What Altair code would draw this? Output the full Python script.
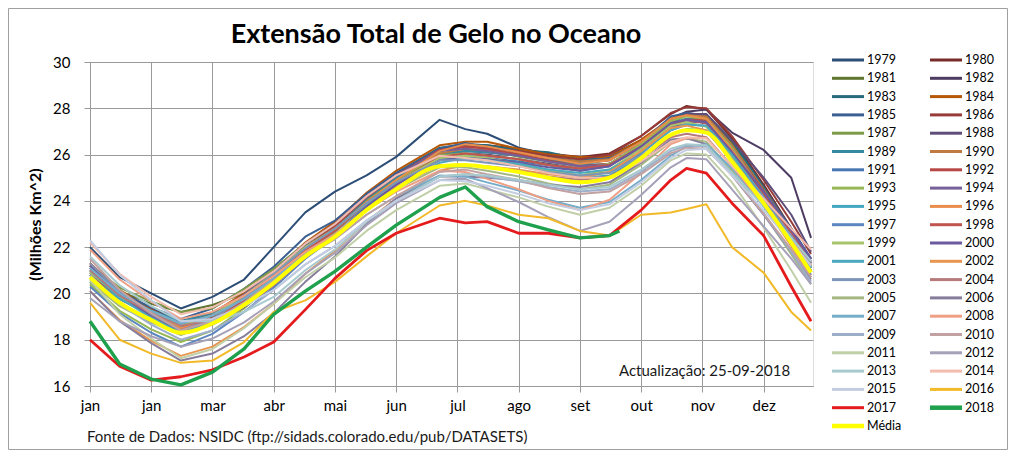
import json
import altair as alt
import pandas as pd

# ---- x positions (day of year) shared by the yearly series ----
DAYS = [0, 15, 31, 46, 62, 78, 93, 109, 124, 140, 155, 177, 190,
        201, 217, 232, 248, 263, 279, 294, 302, 312, 325, 341, 355, 365]
DAYS_2018 = [0, 15, 31, 46, 62, 78, 93, 109, 124, 140, 155, 177, 190,
             201, 217, 232, 248, 263, 268]

# ---- yearly extent values (million km^2) ----
Y1979 = [22.0, 20.7, 20.0, 19.35, 19.85, 20.6, 22.0, 23.5, 24.4, 25.1, 25.9, 27.5, 27.1, 26.9, 26.3, 26.0, 25.8, 26.0, 26.6, 27.5, 27.8, 27.7, 26.5, 24.5, 22.8, 21.5]
Y1980 = [21.2, 20.05, 19.2, 18.6, 18.95, 19.7, 20.65, 21.9, 22.85, 24.1, 25.1, 26.25, 26.45, 26.4, 26.25, 26.05, 25.9, 26.05, 26.8, 27.75, 28.1, 27.95, 26.7, 24.7, 22.8, 21.3]
Y1981 = [21.0, 20.1, 19.55, 19.2, 19.5, 20.0, 21.05, 22.15, 23.0, 24.1, 25.0, 26.15, 26.35, 26.3, 26.2, 25.9, 25.7, 25.8, 26.55, 27.45, 27.75, 27.7, 26.5, 24.5, 22.6, 21.1]
Y1982 = [21.2, 20.1, 19.35, 18.8, 19.15, 19.9, 20.85, 21.95, 22.8, 23.9, 24.8, 25.95, 26.15, 26.1, 25.95, 25.75, 25.6, 25.75, 26.55, 27.55, 27.85, 27.95, 26.95, 26.2, 25.0, 22.4]
Y1983 = [20.5, 19.55, 18.9, 18.5, 18.95, 19.8, 20.75, 22.0, 22.95, 24.05, 25.2, 26.3, 26.45, 26.4, 26.2, 26.1, 25.8, 25.85, 26.5, 27.35, 27.7, 27.75, 26.6, 24.6, 22.7, 21.2]
Y1984 = [21.3, 20.15, 19.3, 18.7, 19.15, 20.0, 20.95, 22.2, 23.1, 24.35, 25.3, 26.4, 26.55, 26.55, 26.25, 26.0, 25.9, 25.9, 26.65, 27.55, 27.75, 27.6, 26.3, 24.35, 22.5, 21.1]
Y1985 = [21.1, 20.05, 19.4, 18.9, 19.35, 20.2, 21.15, 22.45, 23.15, 24.3, 25.2, 26.25, 26.5, 26.3, 26.1, 25.9, 25.7, 25.85, 26.5, 27.65, 27.8, 27.65, 26.4, 24.55, 22.8, 21.5]
Y1986 = [20.9, 19.85, 19.15, 18.6, 18.9, 19.65, 20.55, 21.8, 22.75, 24.0, 25.0, 26.15, 26.35, 26.3, 26.15, 25.95, 25.8, 26.0, 26.8, 27.8, 28.05, 28.0, 26.8, 24.9, 23.1, 21.7]
Y1987 = [21.2, 20.25, 19.65, 19.2, 19.35, 20.2, 21.05, 22.15, 22.95, 24.05, 24.9, 26.0, 26.15, 26.2, 25.9, 25.7, 25.5, 25.6, 26.35, 27.25, 27.55, 27.55, 26.4, 24.5, 22.7, 21.3]
Y1988 = [21.1, 20.0, 19.25, 18.7, 19.05, 19.75, 20.65, 21.8, 22.7, 23.9, 24.8, 25.9, 26.05, 26.0, 25.8, 25.6, 25.4, 25.6, 26.45, 27.45, 27.75, 27.75, 26.6, 25.0, 23.4, 21.8]
Y1989 = [20.8, 19.85, 19.25, 18.8, 19.15, 19.9, 20.85, 22.05, 22.75, 24.1, 25.0, 26.05, 26.15, 26.1, 25.95, 25.75, 25.6, 25.55, 26.45, 27.35, 27.55, 27.45, 26.2, 24.3, 22.5, 21.1]
Y1990 = [21.0, 19.85, 19.0, 18.4, 18.75, 19.5, 20.45, 21.7, 22.65, 23.9, 24.9, 26.05, 26.25, 26.2, 26.05, 25.85, 25.7, 25.8, 26.55, 27.45, 27.7, 27.65, 26.4, 24.45, 22.65, 21.2]
Y1991 = [21.2, 20.05, 19.2, 18.7, 19.0, 19.8, 20.75, 21.9, 22.7, 23.8, 24.7, 25.8, 25.95, 25.85, 25.7, 25.55, 25.3, 25.5, 26.35, 27.35, 27.5, 27.35, 26.1, 24.3, 22.6, 21.3]
Y1992 = [20.8, 19.75, 19.05, 18.5, 18.95, 19.8, 20.75, 22.0, 22.9, 24.15, 25.1, 26.2, 26.35, 26.25, 26.0, 25.75, 25.5, 25.6, 26.35, 27.25, 27.5, 27.5, 26.3, 24.45, 22.65, 21.3]
Y1993 = [20.4, 19.25, 18.45, 17.9, 18.4, 19.35, 20.45, 21.7, 22.65, 23.9, 24.9, 25.95, 26.05, 25.95, 25.8, 25.55, 25.4, 25.6, 26.45, 27.45, 27.65, 27.55, 26.3, 24.35, 22.45, 21.0]
Y1994 = [20.9, 19.85, 19.15, 18.6, 19.05, 19.95, 20.95, 22.15, 23.0, 24.2, 25.1, 26.15, 26.25, 26.15, 25.95, 25.7, 25.5, 25.55, 26.25, 27.15, 27.4, 27.4, 26.2, 24.4, 22.7, 21.4]
Y1995 = [20.7, 19.75, 19.15, 18.7, 19.05, 19.75, 20.65, 21.8, 22.7, 23.85, 24.8, 25.85, 25.95, 25.8, 25.55, 25.25, 25.0, 25.1, 25.9, 26.85, 27.1, 27.05, 25.9, 24.1, 22.4, 21.1]
Y1996 = [21.2, 20.0, 19.15, 18.5, 18.9, 19.7, 20.65, 21.85, 22.75, 23.95, 24.9, 26.15, 26.45, 26.35, 26.1, 25.85, 25.6, 25.75, 26.55, 27.55, 27.7, 27.55, 26.2, 24.35, 22.55, 21.2]
Y1997 = [20.3, 19.15, 18.3, 17.7, 18.25, 19.2, 20.25, 21.5, 22.45, 23.7, 24.7, 25.8, 25.95, 25.85, 25.6, 25.35, 25.1, 25.25, 26.05, 27.05, 27.3, 27.25, 26.0, 24.1, 22.25, 20.8]
Y1998 = [21.3, 20.05, 19.1, 18.4, 18.85, 19.7, 20.65, 21.85, 22.7, 23.9, 24.8, 25.9, 26.05, 25.95, 25.8, 25.55, 25.4, 25.55, 26.35, 27.35, 27.5, 27.35, 26.1, 24.3, 22.6, 21.3]
Y1999 = [20.9, 19.85, 19.15, 18.6, 19.05, 19.9, 20.85, 22.0, 22.8, 23.9, 24.8, 25.85, 25.95, 25.85, 25.6, 25.3, 25.1, 25.35, 26.25, 27.25, 27.4, 27.2, 25.9, 24.1, 22.45, 21.2]
Y2000 = [21.2, 19.95, 19.0, 18.3, 18.65, 19.4, 20.35, 21.6, 22.5, 23.75, 24.7, 25.75, 25.85, 25.8, 25.65, 25.45, 25.3, 25.5, 26.35, 27.35, 27.5, 27.4, 26.1, 24.4, 22.75, 21.5]
Y2001 = [21.0, 19.8, 18.95, 18.3, 18.75, 19.6, 20.55, 21.65, 22.5, 23.6, 24.5, 25.65, 25.85, 25.75, 25.6, 25.35, 25.2, 25.35, 26.1, 27.05, 27.3, 27.25, 26.0, 24.15, 22.4, 21.1]
Y2002 = [20.1, 18.85, 17.95, 17.3, 17.7, 18.55, 19.55, 20.85, 21.85, 23.1, 24.1, 25.3, 25.55, 25.5, 25.35, 25.15, 25.0, 25.25, 26.15, 27.15, 27.25, 27.05, 25.7, 23.8, 22.05, 20.7]
Y2003 = [21.3, 20.05, 19.1, 18.4, 18.9, 19.8, 20.85, 21.95, 22.8, 23.9, 24.8, 25.75, 25.75, 25.65, 25.5, 25.25, 25.1, 25.2, 25.95, 26.85, 27.05, 27.0, 25.8, 24.1, 22.5, 21.3]
Y2004 = [21.0, 19.9, 19.15, 18.6, 18.85, 19.5, 20.35, 21.55, 22.45, 23.65, 24.6, 25.55, 25.55, 25.45, 25.3, 25.05, 24.9, 25.05, 25.8, 26.75, 26.9, 26.75, 25.5, 23.8, 22.2, 21.0]
Y2005 = [20.5, 19.45, 18.75, 18.2, 18.7, 19.6, 20.65, 21.75, 22.55, 23.65, 24.5, 25.45, 25.45, 25.3, 25.05, 24.75, 24.5, 24.7, 25.55, 26.55, 26.7, 26.55, 25.3, 23.45, 21.7, 20.4]
Y2006 = [20.1, 18.8, 17.85, 17.1, 17.4, 18.15, 19.15, 20.5, 21.6, 23.0, 24.1, 25.05, 25.05, 25.0, 24.9, 24.7, 24.6, 24.8, 25.65, 26.65, 26.7, 26.45, 25.1, 23.4, 21.8, 20.6]
Y2007 = [21.1, 20.0, 19.25, 18.7, 19.05, 19.75, 20.65, 21.65, 22.35, 23.4, 24.2, 25.1, 25.05, 24.8, 24.45, 24.05, 23.7, 23.95, 24.9, 25.95, 26.35, 26.45, 25.4, 23.75, 22.25, 21.1]
Y2008 = [21.9, 20.6, 19.65, 18.9, 19.2, 19.9, 20.75, 21.8, 22.55, 23.6, 24.4, 25.3, 25.25, 24.95, 24.5, 24.0, 23.6, 24.05, 25.2, 26.45, 26.7, 26.7, 25.5, 23.85, 22.3, 21.2]
Y2009 = [20.8, 19.55, 18.65, 18.0, 18.4, 19.2, 20.15, 21.25, 22.05, 23.15, 24.0, 25.05, 25.15, 25.05, 24.85, 24.6, 24.4, 24.5, 25.25, 26.15, 26.4, 26.35, 25.2, 23.45, 21.8, 20.5]
Y2010 = [21.5, 20.15, 19.15, 18.4, 18.8, 19.6, 20.55, 21.6, 22.35, 23.4, 24.2, 25.25, 25.35, 25.15, 24.9, 24.55, 24.3, 24.4, 25.15, 26.05, 26.3, 26.25, 25.1, 23.45, 21.9, 20.7]
Y2011 = [20.6, 19.1, 18.05, 17.2, 17.6, 18.5, 19.55, 20.7, 21.55, 22.7, 23.6, 24.65, 24.75, 24.5, 24.15, 23.75, 23.4, 23.7, 24.65, 25.75, 26.05, 26.0, 24.8, 22.85, 21.0, 19.6]
Y2012 = [19.8, 18.8, 18.15, 17.7, 18.05, 18.75, 19.65, 20.85, 21.75, 22.95, 23.9, 24.9, 24.95, 24.55, 23.95, 23.3, 22.7, 23.1, 24.25, 25.45, 25.85, 25.8, 24.5, 22.9, 21.5, 20.4]
Y2013 = [21.6, 20.35, 19.45, 18.8, 18.8, 19.2, 19.85, 21.0, 21.9, 23.1, 24.0, 25.05, 25.15, 25.1, 24.9, 24.7, 24.5, 24.6, 25.35, 26.25, 26.45, 26.4, 25.2, 23.8, 22.4, 21.4]
Y2014 = [22.2, 20.85, 19.85, 19.1, 19.4, 20.1, 20.95, 22.15, 23.0, 24.2, 25.1, 25.95, 25.85, 25.75, 25.5, 25.2, 25.0, 25.0, 25.7, 26.55, 26.75, 26.7, 25.5, 24.1, 22.8, 21.9]
Y2015 = [22.3, 20.8, 19.7, 18.8, 18.9, 19.45, 20.15, 21.25, 22.05, 23.15, 24.0, 24.9, 24.85, 24.65, 24.3, 23.9, 23.6, 23.85, 24.8, 25.85, 26.2, 26.25, 25.1, 23.6, 22.2, 21.2]
Y2016 = [19.6, 18.0, 17.4, 17.0, 17.1, 17.9, 19.2, 19.7, 20.5, 21.6, 22.6, 23.8, 24.0, 23.8, 23.4, 23.25, 22.7, 22.5, 23.4, 23.5, 23.65, 23.85, 22.0, 20.9, 19.2, 18.4]
Y2017 = [18.0, 16.85, 16.25, 16.4, 16.7, 17.25, 17.9, 19.3, 20.65, 21.85, 22.6, 23.25, 23.05, 23.1, 22.6, 22.6, 22.4, 22.5, 23.6, 24.9, 25.4, 25.2, 23.9, 22.5, 20.3, 18.8]
Y2018 = [18.8, 16.95, 16.3, 16.05, 16.6, 17.6, 19.1, 20.1, 20.95, 22.0, 22.95, 24.15, 24.6, 23.75, 23.1, 22.75, 22.4, 22.5, 22.7]
MEDIA = [20.7, 19.6, 18.85, 18.3, 18.7, 19.5, 20.45, 21.6, 22.45, 23.6, 24.5, 25.5, 25.55, 25.45, 25.25, 25.0, 24.8, 25.0, 25.85, 26.85, 27.05, 26.95, 25.7, 23.9, 22.2, 20.9]

# ---- series names, colours, tick labels ----
SERIES = [str(y) for y in range(1979, 2019)] + ["Média"]
COLORS = [
    "#2C4D75", "#772C2A", "#5F7530", "#4D3B62", "#276A7C", "#B65708",
    "#3A5F93", "#973B39", "#7D9A47", "#5F4D7A", "#348AA1", "#C0793E",
    "#4977B2", "#B64744", "#98B855", "#75609A", "#45A6C2", "#E98D4A",
    "#5B86C0", "#C25450", "#A8C46A", "#6B5A9E", "#4AA9BE", "#E8964F",
    "#7D95B7", "#B77A7C", "#A5B882", "#867C9C", "#76ADCB", "#EF9F84",
    "#9DAECB", "#C2A1A2", "#C1CFA8", "#A6A1B8", "#A7CACE", "#F2BCAE",
    "#C3CDE2", "#F2B928", "#E41A1C", "#1EA04C", "#FFFF00",
]
TICK_DAYS = [0, 31, 62, 93, 124, 155, 186, 217, 248, 279, 310, 341]
MONTH_LABELS = ["jan", "jan", "mar", "abr", "mai", "jun", "jul", "ago", "set", "out", "nov", "dez"]
Y_TICKS = [16, 18, 20, 22, 24, 26, 28, 30]

TITLE = "Extensão Total de Gelo no Oceano"
Y_TITLE = "(Milhões  Km^2)"
UPDATE_TEXT = "Actualização: 25-09-2018"
SOURCE_TEXT = "Fonte de Dados: NSIDC (ftp://sidads.colorado.edu/pub/DATASETS)"

YEAR_LISTS = [Y1979, Y1980, Y1981, Y1982, Y1983, Y1984, Y1985, Y1986, Y1987, Y1988,
              Y1989, Y1990, Y1991, Y1992, Y1993, Y1994, Y1995, Y1996, Y1997, Y1998,
              Y1999, Y2000, Y2001, Y2002, Y2003, Y2004, Y2005, Y2006, Y2007, Y2008,
              Y2009, Y2010, Y2011, Y2012, Y2013, Y2014, Y2015, Y2016]

for lst in YEAR_LISTS + [Y2017, MEDIA]:
    assert len(lst) == len(DAYS), len(lst)
assert len(Y2018) == len(DAYS_2018)


def long_rows(name, days, vals):
    return [{"day": d, "ext": v, "serie": name} for d, v in zip(days, vals)]


rows = []
for yr, vals in zip(range(1979, 2017), YEAR_LISTS):
    rows += long_rows(str(yr), DAYS, vals)
df_years = pd.DataFrame(rows)
df_2017 = pd.DataFrame(long_rows("2017", DAYS, Y2017))
df_2018 = pd.DataFrame(long_rows("2018", DAYS_2018, Y2018))
df_media = pd.DataFrame(long_rows("Média", DAYS, MEDIA))

# legend table: two columns, filled row by row (1979 | 1980, 1981 | 1982, ...)
df_leg = pd.DataFrame({
    "serie": SERIES,
    "col": [i % 2 for i in range(len(SERIES))],
    "row": [i // 2 for i in range(len(SERIES))],
})

FONT = "Lato"
GRID = "#9A9A9A"

label_expr = "{}[indexof({}, datum.value)]".format(json.dumps(MONTH_LABELS), json.dumps(TICK_DAYS))

x_enc = alt.X(
    "day:Q",
    scale=alt.Scale(domain=[0, 366], nice=False, zero=False),
    axis=alt.Axis(values=TICK_DAYS, labelExpr=label_expr, title=None, grid=True,
                  gridColor=GRID, domainColor=GRID, tickColor=GRID, tickSize=6,
                  labelPadding=6, labelFont=FONT, labelFontSize=15, labelColor="black",
                  labelFlush=False, labelOverlap=False),
)
y_enc = alt.Y(
    "ext:Q",
    scale=alt.Scale(domain=[16, 30], nice=False, zero=False),
    axis=alt.Axis(values=Y_TICKS, title=Y_TITLE, grid=True, gridColor=GRID,
                  domainColor=GRID, tickColor=GRID, tickSize=6, labelPadding=14,
                  labelFont=FONT, labelFontSize=15, labelColor="black",
                  titleFont=FONT, titleFontSize=16, titleFontWeight="bold",
                  titleColor="black", titleAngle=-90, titleX=-55, titleY=162,
                  titleAlign="center", titleBaseline="middle"),
)
color_scale = alt.Scale(domain=SERIES, range=COLORS)
color_enc = alt.Color("serie:N", scale=color_scale, legend=None)


def line_layer(df, width, interp):
    return alt.Chart(df).mark_line(strokeWidth=width, interpolate=interp,
                                   strokeJoin="round").encode(
        x=x_enc, y=y_enc, color=color_enc, detail="serie:N")


years = line_layer(df_years, 2, "linear")
l2017 = line_layer(df_2017, 2.8, "linear")
l2018 = line_layer(df_2018, 3.4, "linear")
lmedia = line_layer(df_media, 4, "monotone")

update_txt = alt.Chart(pd.DataFrame({"t": [UPDATE_TEXT]})).mark_text(
    align="right", baseline="middle", font=FONT, fontSize=15, color="#1a1a1a"
).encode(x=alt.datum(354.4), y=alt.datum(16.65), text="t:N")

source_txt = alt.Chart(pd.DataFrame({"t": [SOURCE_TEXT]})).mark_text(
    align="left", baseline="middle", font=FONT, fontSize=15, color="#1a1a1a"
).encode(x=alt.value(-3), y=alt.value(375), text="t:N")

title_txt = alt.Chart(pd.DataFrame({"t": [TITLE]})).mark_text(
    align="center", baseline="alphabetic", font=FONT, fontSize=27,
    fontWeight="bold", color="black"
).encode(x=alt.value(346), y=alt.value(-19), text="t:N")

frame = alt.Chart(pd.DataFrame({"t": [0]})).mark_rect(
    filled=False, stroke="#A0A0A0", strokeWidth=1
).encode(x=alt.value(-81.5), x2=alt.value(917.5), y=alt.value(-53.5), y2=alt.value(387.5))

plot = alt.layer(years, l2017, l2018, lmedia, update_txt, source_txt, title_txt, frame)

leg_x = alt.X("col:Q", scale=alt.Scale(domain=[0, 1], range=[758, 856]), axis=None)
leg_y = alt.Y("row:Q", scale=alt.Scale(domain=[0, 20], range=[-2, 364]), axis=None)
leg_sym = alt.Chart(df_leg).mark_point(shape="stroke", size=1024, filled=False, opacity=1).encode(
    x=leg_x, y=leg_y,
    color=alt.Color("serie:N", scale=color_scale, legend=None),
    strokeWidth=alt.condition("datum.serie == '2018' || datum.serie == 'Média'",
                              alt.value(4.5), alt.value(3)),
)
leg_txt = alt.Chart(df_leg).mark_text(
    align="left", baseline="middle", dx=19, font=FONT, fontSize=12.5, color="black"
).encode(x=leg_x, y=leg_y, text="serie:N")
leg = alt.layer(leg_sym, leg_txt)

chart = alt.layer(plot, leg).resolve_scale(x="independent", y="independent").properties(
    width=723, height=324,
    padding={"left": 82, "top": 54, "right": 195, "bottom": 64},
    autosize=alt.AutoSizeParams(type="none"),
).configure_view(
    fill="#E5E0EC", stroke=GRID
).configure(background="white")

chart.save("out.html", embed_options={"renderer": "svg", "actions": False})
